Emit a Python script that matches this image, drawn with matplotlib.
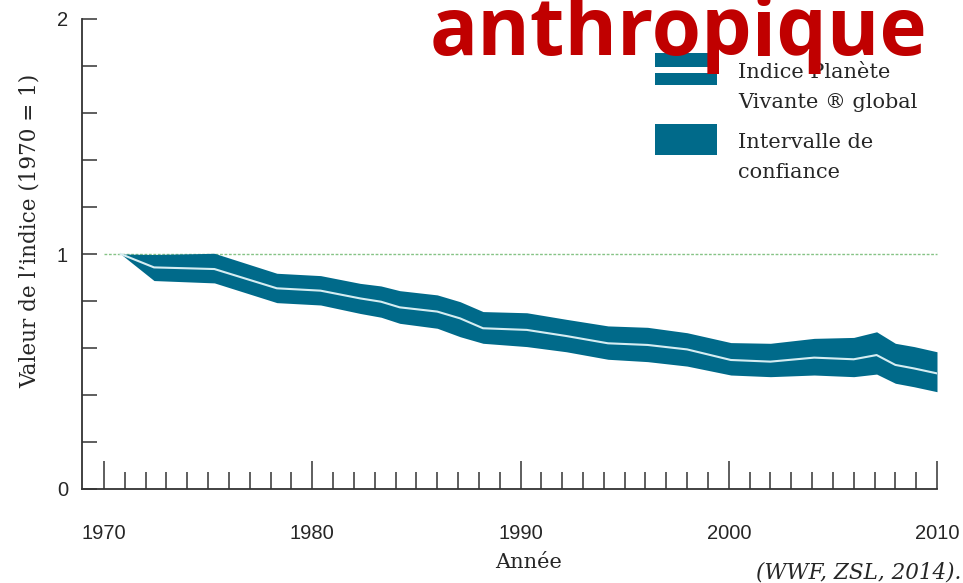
import matplotlib
matplotlib.use("Agg")
import matplotlib.pyplot as plt
from matplotlib.patches import Rectangle
from matplotlib.ticker import FixedLocator, NullFormatter

# Living Planet Index (1970 = 1)
years = [1970.8, 1972.4, 1975.3, 1978.3, 1980.4, 1982.3, 1983.3, 1984.2, 1986.0, 1987.1,
         1988.2, 1990.3, 1992.2, 1994.2, 1996.1, 1998.0, 2000.1, 2002.0, 2004.1, 2006.0,
         2007.1, 2008.0, 2008.9, 2010.0]
index_value = [1.0, 0.943, 0.936, 0.854, 0.844, 0.811, 0.797, 0.773, 0.755, 0.726,
               0.684, 0.677, 0.651, 0.62, 0.613, 0.594, 0.549, 0.542, 0.559, 0.552,
               0.570, 0.528, 0.513, 0.492]
upper_bound = [1.0, 0.998, 1.003, 0.918, 0.908, 0.875, 0.864, 0.844, 0.826, 0.797,
               0.755, 0.75, 0.722, 0.694, 0.688, 0.665, 0.623, 0.62, 0.641, 0.645,
               0.669, 0.62, 0.606, 0.584]
lower_bound = [1.0, 0.887, 0.877, 0.793, 0.783, 0.747, 0.731, 0.705, 0.684, 0.648,
               0.62, 0.606, 0.584, 0.552, 0.542, 0.523, 0.485, 0.478, 0.485, 0.478,
               0.489, 0.45, 0.435, 0.414]
decades = [1970, 1980, 1990, 2000, 2010]
decade_labels = ["1970", "1980", "1990", "2000", "2010"]
y_labels = ["0", "1", "2"]

teal = "#006a8a"
axis_colour = "#333333"
text_colour = "#262626"
serif = "DejaVu Serif"
W, H = 963, 583

fig = plt.figure(figsize=(W / 100, H / 100), dpi=100)


def fx(x):
    return x / W


def fy(y):
    return 1 - y / H


ax = fig.add_axes([fx(82), fy(489), (937 - 82) / W, (489 - 19) / H])
ax.set_xlim(1970 - 22 / 20.8, 2010)
ax.set_ylim(0, 2)

ax.fill_between(years, lower_bound, upper_bound, color=teal, linewidth=0, zorder=2)
ax.plot(years, index_value, color="#d6edf2", linewidth=1.5, zorder=3)
ax.plot([1970, 2010], [1, 1], color="#86c386", linewidth=1.0,
        linestyle=(0, (2, 1.2)), zorder=1, clip_on=False)

for side in ["top", "right"]:
    ax.spines[side].set_visible(False)
for side in ["left", "bottom"]:
    ax.spines[side].set_color(axis_colour)
    ax.spines[side].set_linewidth(1.3)

ax.xaxis.set_major_locator(FixedLocator(decades))
ax.xaxis.set_minor_locator(FixedLocator([y for y in range(1970, 2011) if y % 10]))
ax.set_xticklabels(decade_labels)
ax.xaxis.set_minor_formatter(NullFormatter())
ax.tick_params(axis="x", which="major", direction="in", length=20, width=1.1,
               color=axis_colour, pad=25, labelsize=14.5, labelcolor=text_colour)
ax.tick_params(axis="x", which="minor", direction="in", length=12, width=1.1,
               color=axis_colour)

ax.yaxis.set_major_locator(FixedLocator([0, 1, 2]))
ax.yaxis.set_minor_locator(FixedLocator([0.2, 0.4, 0.6, 0.8, 1.2, 1.4, 1.6, 1.8]))
ax.set_yticklabels(y_labels)
ax.tick_params(axis="y", which="both", direction="in", length=11, width=1.1,
               color=axis_colour)
ax.tick_params(axis="y", which="major", pad=10, labelsize=14.5, labelcolor=text_colour)
for lab in ax.get_xticklabels() + ax.get_yticklabels():
    lab.set_family("Liberation Sans")

fig.text(fx(30), fy(231), "Valeur de l’indice (1970 = 1)", rotation=90,
         ha="center", va="center", family=serif, fontsize=15.5, color=text_colour)
fig.text(fx(495), fy(568), "Année", ha="left", va="baseline",
         family=serif, fontsize=15, color=text_colour)
fig.text(fx(961), fy(578), "(WWF, ZSL, 2014).", ha="right", va="baseline",
         family=serif, style="italic", fontsize=15.5, color=text_colour)

# legend drawn by hand
fig.patches.append(Rectangle((fx(655), fy(85)), 62 / W, 32 / H, transform=fig.transFigure,
                             facecolor=teal, edgecolor="none"))
fig.patches.append(Rectangle((fx(655), fy(73)), 62 / W, 6 / H, transform=fig.transFigure,
                             facecolor="white", edgecolor="none"))
fig.patches.append(Rectangle((fx(655), fy(155)), 62 / W, 31 / H, transform=fig.transFigure,
                             facecolor=teal, edgecolor="none"))
legend_lines = [("Indice Planète", 78), ("Vivante ® global", 108),
                ("Intervalle de", 148), ("confiance", 178)]
for txt, base in legend_lines:
    fig.text(fx(738), fy(base), txt, ha="left", va="baseline", family=serif,
             fontsize=15, color=text_colour)

fig.text(fx(430), fy(55), "anthropique", ha="left", va="baseline",
         family="Open Sans", fontweight="bold", fontsize=57.5, color="#c00000", zorder=10)

fig.savefig("out.png", dpi=100)
